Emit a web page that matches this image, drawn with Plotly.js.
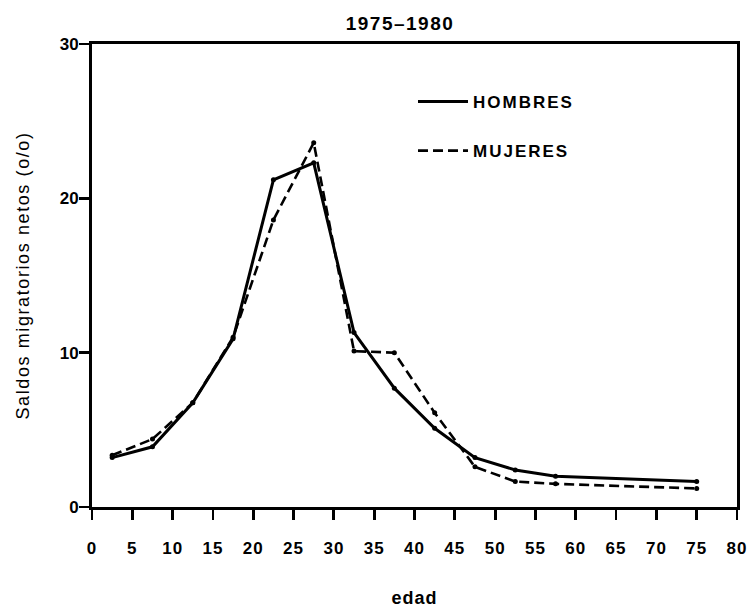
<!DOCTYPE html>
<html>
<head>
<meta charset="utf-8">
<script src="https://cdn.plot.ly/plotly-3.0.1.min.js"></script>
<style>
  html, body { margin: 0; padding: 0; background: #fff; }
  #chart { width: 747px; height: 608px; }
  .g-ytitle text { letter-spacing: 1.6px; }
  .g-xtitle text { letter-spacing: 1px; }
  .legendtext { letter-spacing: 2px; }
  .gtitle { letter-spacing: 1.5px; }
  .xtick text { letter-spacing: 1px; }
</style>
</head>
<body>
<div id="chart"></div>
<script>
// Age group midpoints (edad)
var edades = [2.5, 7.5, 12.5, 17.5, 22.5, 27.5, 32.5, 37.5, 42.5, 47.5, 52.5, 57.5, 75];
// Net migration balances (o/o), 1975-1980
var hombres = [3.2, 3.9, 6.75, 10.9, 21.2, 22.3, 11.3, 7.7, 5.1, 3.2, 2.4, 2.0, 1.65];
var mujeres = [3.35, 4.4, 6.75, 11.0, 18.6, 23.6, 10.1, 10.0, 6.1, 2.6, 1.65, 1.5, 1.2];
var xTicks = [0, 5, 10, 15, 20, 25, 30, 35, 40, 45, 50, 55, 60, 65, 70, 75, 80];
var yTicks = [0, 10, 20, 30];

var FONT = '"Liberation Sans", Arial, Helvetica, sans-serif';

var traces = [
  {
    x: edades, y: hombres, name: 'HOMBRES', type: 'scatter', mode: 'lines',
    line: {color: '#000', width: 3}, legendgroup: 'h'
  },
  {
    x: edades, y: mujeres, name: 'MUJERES', type: 'scatter', mode: 'lines',
    line: {color: '#000', width: 2.6, dash: '10px,5px'}, legendgroup: 'm'
  },
  {
    x: edades, y: hombres, type: 'scatter', mode: 'markers', showlegend: false,
    marker: {color: '#000', size: 5}, hoverinfo: 'skip'
  },
  {
    x: edades, y: mujeres, type: 'scatter', mode: 'markers', showlegend: false,
    marker: {color: '#000', size: 5}, hoverinfo: 'skip'
  }
];

var layout = {
  width: 747, height: 608,
  margin: {l: 92, r: 10, t: 44, b: 101},
  paper_bgcolor: '#fff', plot_bgcolor: '#fff',
  font: {family: FONT, color: '#000'},
  title: {
    text: '<b>1975\u20131980</b>',
    font: {family: FONT, size: 19, color: '#000'},
    x: 400 / 747, xref: 'container', xanchor: 'center',
    y: 1 - 23 / 608, yref: 'container', yanchor: 'middle'
  },
  xaxis: {
    range: [0, 80],
    tickvals: xTicks, ticktext: xTicks.map(String),
    ticks: 'outside', ticklen: 10, tickwidth: 2.8, tickcolor: '#000',
    ticklabelstandoff: 14, ticklabeloverflow: 'allow',
    showline: true, linewidth: 3, linecolor: '#000', mirror: true,
    showgrid: false, zeroline: false,
    tickfont: {family: FONT, size: 17, color: '#000', weight: 'bold'},
    title: {text: '<b>edad</b>', font: {family: FONT, size: 18, color: '#000'}, standoff: 40}
  },
  yaxis: {
    range: [0, 30],
    tickvals: yTicks, ticktext: yTicks.map(String),
    ticks: 'outside', ticklen: 10, tickwidth: 2.8, tickcolor: '#000',
    ticklabelstandoff: -3,
    showline: true, linewidth: 3, linecolor: '#000', mirror: true,
    showgrid: false, zeroline: false,
    tickfont: {family: FONT, size: 17, color: '#000', weight: 'bold'},
    title: {text: 'Saldos migratorios netos (o/o)', font: {family: FONT, size: 18, color: '#000'}, standoff: 26}
  },
  showlegend: true,
  legend: {
    x: (413 - 92) / 645, xanchor: 'left',
    y: (507 - 84) / 463, yanchor: 'top',
    bgcolor: 'rgba(0,0,0,0)', borderwidth: 0,
    font: {family: FONT, size: 17, color: '#000', weight: 'bold'},
    traceorder: 'grouped', tracegroupgap: 24,
    itemwidth: 50
  }
};

Plotly.newPlot('chart', traces, layout, {displayModeBar: false, staticPlot: true});
</script>
</body>
</html>
